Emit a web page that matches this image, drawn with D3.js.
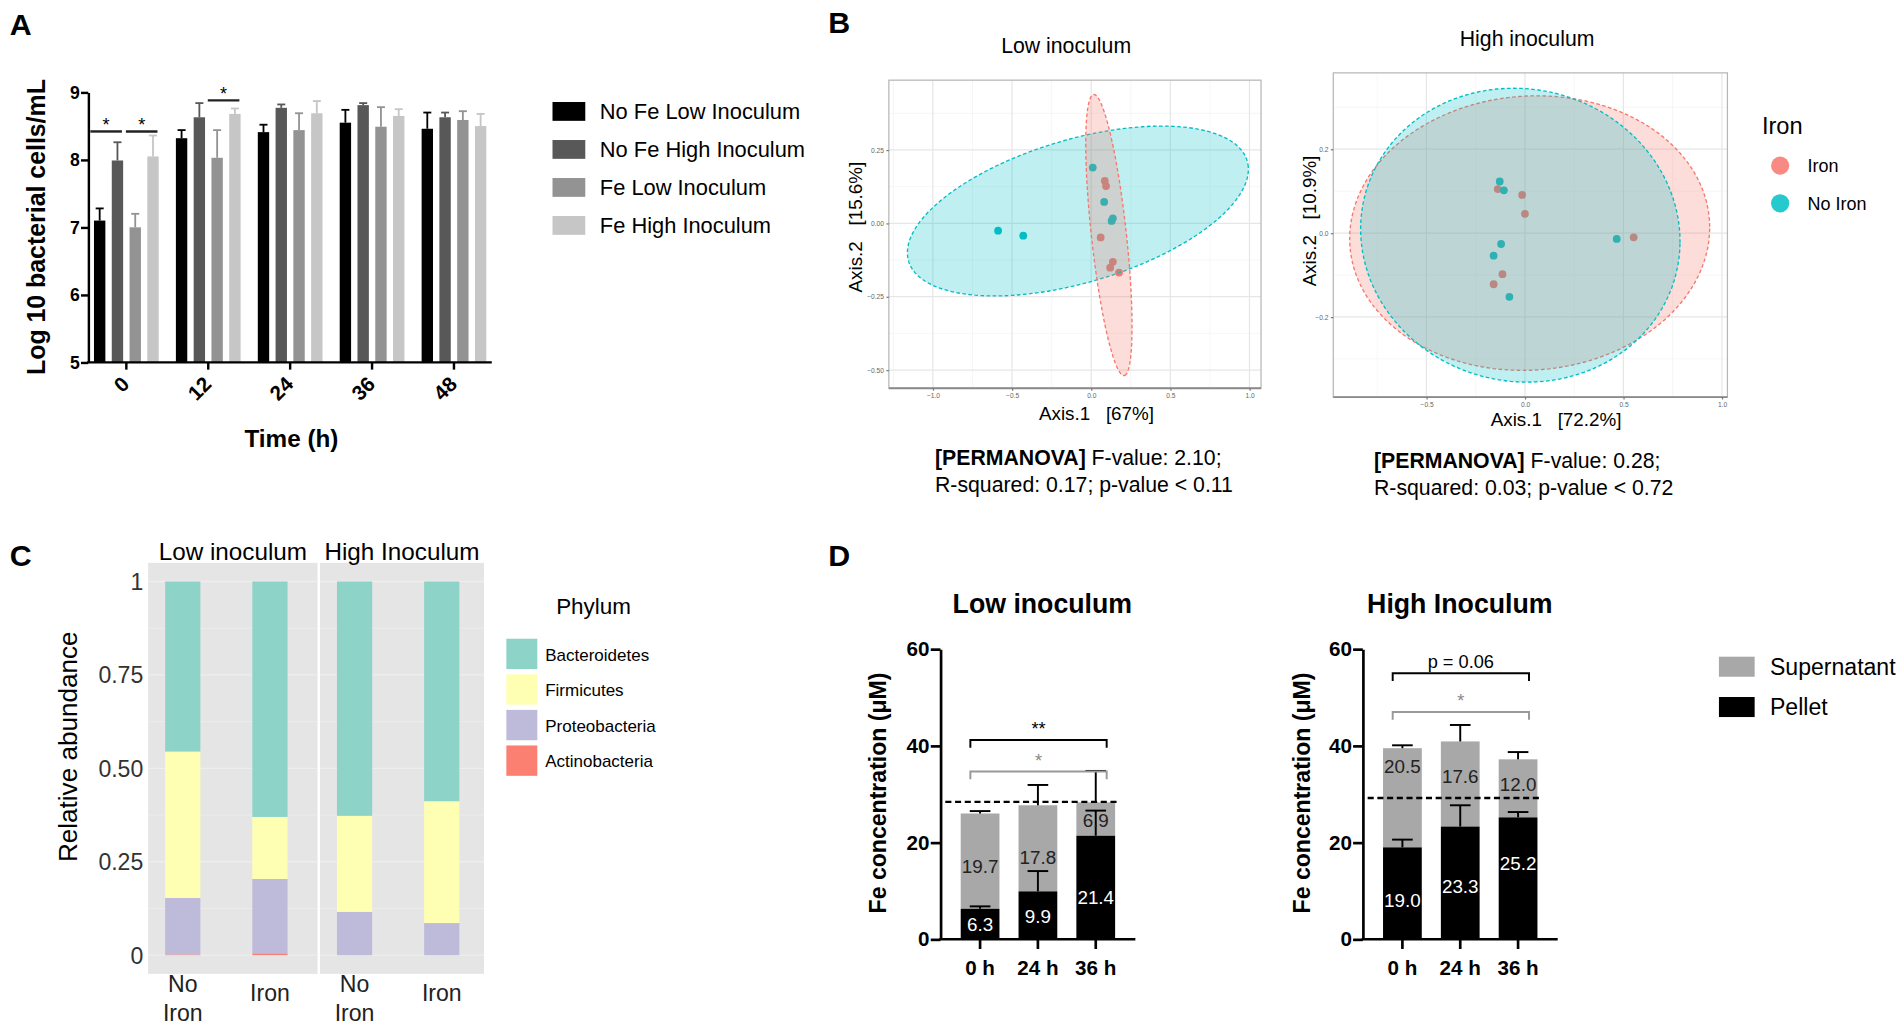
<!DOCTYPE html>
<html>
<head>
<meta charset="utf-8">
<script src="https://cdn.jsdelivr.net/npm/d3@7"></script>
<style>
  body { margin: 0; background: #fff; }
  svg { display: block; }
  text { font-family: "Liberation Sans", Arial, Helvetica, sans-serif; }
</style>
</head>
<body>
<svg id="fig"></svg>
<script>
// ---------- Panel A: growth (log10 cells/mL) ----------
const timeLabels = ['0', '12', '24', '36', '48'];
const growthSeries = ['No Fe Low Inoculum', 'No Fe High Inoculum', 'Fe Low Inoculum', 'Fe High Inoculum'];
const growthColors = ['#000000', '#585858', '#939393', '#c6c6c6'];
const noFeLow = [7.10, 8.32, 8.41, 8.55, 8.46];
const noFeLowSd = [0.18, 0.12, 0.11, 0.19, 0.24];
const noFeHigh = [7.99, 8.63, 8.77, 8.81, 8.63];
const noFeHighSd = [0.27, 0.21, 0.05, 0.03, 0.07];
const feLow = [7.00, 8.03, 8.44, 8.49, 8.59];
const feLowSd = [0.20, 0.41, 0.25, 0.29, 0.13];
const feHigh = [8.05, 8.68, 8.69, 8.65, 8.50];
const feHighSd = [0.31, 0.08, 0.18, 0.10, 0.18];
const growthSig = [
  { time: '0', from: 0, to: 1, y: 8.42 },
  { time: '0', from: 2, to: 3, y: 8.42 },
  { time: '12', from: 2, to: 3, y: 8.88 }
];

// ---------- Panel B: PCoA ----------
const lowNoIronPts = [[0.010, 0.190], [0.082, 0.073], [0.137, 0.017], [0.129, 0.008], [-0.588, -0.025], [-0.429, -0.042]];
const lowIronPts = [[0.086, 0.145], [0.094, 0.127], [0.060, -0.048], [0.137, -0.131], [0.120, -0.151], [0.176, -0.168]];
const highNoIronPts = [[-0.128, 0.123], [-0.107, 0.102], [0.466, -0.014], [-0.121, -0.026], [-0.159, -0.054], [-0.079, -0.152]];
const highIronPts = [[-0.138, 0.105], [-0.014, 0.091], [0.000, 0.046], [0.552, -0.010], [-0.114, -0.098], [-0.159, -0.122]];
// ellipses: [cx, cy, semi-axis a, semi-axis b, angle (rad)]
const lowNoIronEllipse = [-0.084, 0.042, 1.087, 0.250, 0.1385];
const lowIronEllipse = [0.112, -0.040, 0.489, 0.109, -1.365];
const highNoIronEllipse = [-0.0235, -0.005, 0.811, 0.350, -0.0224];
const highIronEllipse = [0.024, 0.000, 0.914, 0.327, 0.0165];
const ironGroups = ['Iron', 'No Iron'];
const ironColors = ['#F8766D', '#00BFC4'];

// ---------- Panel C: relative abundance ----------
const phyla = ['Bacteroidetes', 'Firmicutes', 'Proteobacteria', 'Actinobacteria'];
const phylumColors = ['#8dd3c7', '#ffffb3', '#bebada', '#fb8072'];
const inoculumFacets = ['Low inoculum', 'High Inoculum'];
const ironCategories = ['No Iron', 'Iron'];
const bacteroidetes = [0.455, 0.630, 0.627, 0.588];
const firmicutes = [0.392, 0.166, 0.257, 0.326];
const proteobacteria = [0.151, 0.199, 0.116, 0.086];
const actinobacteria = [0.002, 0.005, 0.000, 0.000];

// ---------- Panel D: Fe concentration ----------
const feTimes = ['0 h', '24 h', '36 h'];
const lowPellet = [6.3, 9.9, 21.4];
const lowPelletSd = [0.5, 4.2, 5.2];
const lowSupernatant = [19.7, 17.8, 6.9];
const lowSupernatantSd = [0.5, 4.2, 6.5];
const highPellet = [19.0, 23.3, 25.2];
const highPelletSd = [1.6, 4.4, 1.1];
const highSupernatant = [20.5, 17.6, 12.0];
const highSupernatantSd = [0.6, 3.4, 1.5];
const lowPelletLabelAt = [3.1, 4.8, 8.6];
const lowSupLabelAt = [15.0, 16.9, 24.6];
const highPelletLabelAt = [8.1, 11.0, 15.8];
const highSupLabelAt = [35.8, 33.6, 32.1];
const lowInitialFe = 28.4;
const highInitialFe = 29.2;
const lowBrackets = [{ y: 41.2, label: '**', color: '#000' }, { y: 34.7, label: '*', color: '#999' }];
const highBrackets = [{ y: 55.0, label: 'p = 0.06', color: '#000' }, { y: 47.0, label: '*', color: '#999' }];

const svg = d3.select('#fig')
  .attr('width', 1904)
  .attr('height', 1025)
  .attr('viewBox', '0 0 1568 844.1');

// panel letters
[['A', 8, 29], ['B', 682, 27], ['C', 8, 466], ['D', 682, 466]].forEach(([t, x, y]) => {
  svg.append('text').attr('x', x).attr('y', y).text(t)
    .attr('font-size', 25).attr('font-weight', 'bold');
});

// ================= Panel A =================
const gA = svg.append('g');
const aAxisX = 72.7;
const aX = d3.scaleBand().domain(timeLabels).range([77.4, 400.5]).paddingInner(0.21);
const aSub = d3.scaleBand().domain(d3.range(growthSeries.length)).range([0, aX.bandwidth()]).paddingInner(0.36);
const aY = d3.scaleLinear().domain([5, 9]).range([298.4, 76]);

const growthMeans = [noFeLow, noFeHigh, feLow, feHigh];
const growthSds = [noFeLowSd, noFeHighSd, feLowSd, feHighSd];
const growthRows = [];
growthSeries.forEach((s, si) => {
  timeLabels.forEach((t, ti) => {
    growthRows.push({ t, si, v: growthMeans[si][ti], sd: growthSds[si][ti] });
  });
});

gA.selectAll('rect.bar')
  .data(growthRows)
  .enter()
  .append('rect')
  .attr('x', d => aX(d.t) + aSub(d.si))
  .attr('width', aSub.bandwidth())
  .attr('y', d => aY(d.v))
  .attr('height', d => aY(5) - aY(d.v))
  .attr('fill', d => growthColors[d.si]);

const aErr = gA.selectAll('g.err')
  .data(growthRows)
  .enter()
  .append('g')
  .attr('stroke', d => growthColors[d.si])
  .attr('stroke-width', 1.5);
aErr.append('line')
  .attr('x1', d => aX(d.t) + aSub(d.si) + aSub.bandwidth() / 2)
  .attr('x2', d => aX(d.t) + aSub(d.si) + aSub.bandwidth() / 2)
  .attr('y1', d => aY(d.v))
  .attr('y2', d => aY(d.v + d.sd));
aErr.append('line')
  .attr('x1', d => aX(d.t) + aSub(d.si) + aSub.bandwidth() / 2 - 3.3)
  .attr('x2', d => aX(d.t) + aSub(d.si) + aSub.bandwidth() / 2 + 3.3)
  .attr('y1', d => aY(d.v + d.sd))
  .attr('y2', d => aY(d.v + d.sd));

// significance lines
growthSig.forEach(s => {
  const xa = aX(s.time) + aSub(s.from) - 3;
  const xb = aX(s.time) + aSub(s.to) + aSub.bandwidth() - 1;
  gA.append('line').attr('x1', xa).attr('x2', xb)
    .attr('y1', aY(s.y)).attr('y2', aY(s.y))
    .attr('stroke', '#222').attr('stroke-width', 2);
  gA.append('text').attr('x', (xa + xb) / 2).attr('y', aY(s.y) - 0.5)
    .attr('text-anchor', 'middle').attr('font-size', 15).text('*');
});

// axes
const aYAxis = gA.append('g')
  .attr('transform', `translate(${aAxisX},0)`)
  .call(d3.axisLeft(aY).tickValues([5, 6, 7, 8, 9]).tickFormat(d3.format('d')).tickSize(6).tickSizeOuter(0).tickPadding(1));
aYAxis.selectAll('path, line').attr('stroke', '#000').attr('stroke-width', 2);
aYAxis.selectAll('text').attr('font-size', 14.5).attr('font-weight', 'bold').attr('fill', '#000');

const aXAxis = gA.append('g')
  .attr('transform', `translate(0,${aY(5)})`)
  .call(d3.axisBottom(aX).tickSize(6).tickSizeOuter(0));
aXAxis.select('.domain').remove();
aXAxis.selectAll('line').attr('stroke', '#000').attr('stroke-width', 2);
aXAxis.selectAll('text')
  .attr('font-size', 17).attr('font-weight', 'bold').attr('fill', '#000')
  .attr('text-anchor', 'end').attr('dy', null)
  .attr('transform', 'translate(3.6,19) rotate(-45)')
  .attr('y', 0).attr('x', 0);
gA.append('line').attr('x1', aAxisX - 1).attr('x2', 405).attr('y1', aY(5)).attr('y2', aY(5))
  .attr('stroke', '#000').attr('stroke-width', 2);

gA.append('text').attr('transform', 'translate(37.2,187) rotate(-90)')
  .attr('text-anchor', 'middle').attr('font-size', 20.5).attr('font-weight', 'bold')
  .text('Log 10 bacterial cells/mL');
gA.append('text').attr('x', 240).attr('y', 368).attr('text-anchor', 'middle')
  .attr('font-size', 20).attr('font-weight', 'bold').text('Time (h)');

// legend A
const aLeg = gA.selectAll('g.leg').data(growthSeries).enter().append('g')
  .attr('transform', (d, i) => `translate(455,${84 + i * 31.3})`);
aLeg.append('rect').attr('width', 27).attr('height', 15.5).attr('fill', (d, i) => growthColors[i]);
aLeg.append('text').attr('x', 39).attr('y', 14).attr('font-size', 18).text(d => d);

// ================= Panel B =================
function ellipsePath(e) {
  const [cx, cy, a, b, phi] = e;
  return d3.range(0, 361, 3).map(deg => {
    const t = deg * Math.PI / 180;
    return [
      cx + a * Math.cos(t) * Math.cos(phi) - b * Math.sin(t) * Math.sin(phi),
      cy + a * Math.cos(t) * Math.sin(phi) + b * Math.sin(t) * Math.cos(phi)
    ];
  });
}

function pcoaPlot(o) {
  const g = svg.append('g');
  const x = d3.scaleLinear().domain(o.xDomain).range([o.x0, o.x1]);
  const y = d3.scaleLinear().domain(o.yDomain).range([o.y1, o.y0]);

  g.append('rect').attr('x', o.x0).attr('y', o.y0)
    .attr('width', o.x1 - o.x0).attr('height', o.y1 - o.y0).attr('fill', '#fff');
  // grid
  g.selectAll('line.minx').data(o.xMinor).enter().append('line')
    .attr('x1', d => x(d)).attr('x2', d => x(d)).attr('y1', o.y0).attr('y2', o.y1)
    .attr('stroke', '#f3f3f3').attr('stroke-width', 0.6);
  g.selectAll('line.miny').data(o.yMinor).enter().append('line')
    .attr('y1', d => y(d)).attr('y2', d => y(d)).attr('x1', o.x0).attr('x2', o.x1)
    .attr('stroke', '#f3f3f3').attr('stroke-width', 0.6);
  g.selectAll('line.majx').data(o.xTicks).enter().append('line')
    .attr('x1', d => x(d)).attr('x2', d => x(d)).attr('y1', o.y0).attr('y2', o.y1)
    .attr('stroke', '#e6e6e6').attr('stroke-width', 1);
  g.selectAll('line.majy').data(o.yTicks).enter().append('line')
    .attr('y1', d => y(d)).attr('y2', d => y(d)).attr('x1', o.x0).attr('x2', o.x1)
    .attr('stroke', '#e6e6e6').attr('stroke-width', 1);

  // points (drawn under the ellipses)
  o.points.forEach((pts, gi) => {
    g.selectAll(null).data(pts).enter().append('circle')
      .attr('cx', d => x(d[0])).attr('cy', d => y(d[1])).attr('r', 3.2)
      .attr('fill', ironColors[gi]);
  });
  const line = d3.line().x(d => x(d[0])).y(d => y(d[1]));
  o.order.forEach(gi => {
    g.append('path').attr('d', line(ellipsePath(o.ellipses[gi])) + 'Z')
      .attr('fill', ironColors[gi]).attr('fill-opacity', 0.25)
      .attr('stroke', ironColors[gi]).attr('stroke-width', 1.1)
      .attr('stroke-dasharray', '3,2');
  });

  // border
  g.append('rect').attr('x', o.x0).attr('y', o.y0)
    .attr('width', o.x1 - o.x0).attr('height', o.y1 - o.y0)
    .attr('fill', 'none').attr('stroke', '#b5b5b5').attr('stroke-width', 1);
  g.append('line').attr('x1', o.x0).attr('x2', o.x1).attr('y1', o.y1).attr('y2', o.y1)
    .attr('stroke', '#8a8a8a').attr('stroke-width', 1.5);

  // ticks
  const xa = g.append('g').attr('transform', `translate(0,${o.y1})`)
    .call(d3.axisBottom(x).tickValues(o.xTicks).tickFormat(d3.format('.1f')).tickSize(2).tickPadding(2));
  const ya = g.append('g').attr('transform', `translate(${o.x0},0)`)
    .call(d3.axisLeft(y).tickValues(o.yTicks).tickFormat(d3.format(o.yFormat)).tickSize(2).tickPadding(2));
  [xa, ya].forEach(a => {
    a.select('.domain').remove();
    a.selectAll('line').attr('stroke', '#777');
    a.selectAll('text').attr('font-size', 5.5).attr('fill', '#666');
  });

  g.append('text').attr('x', o.titleX).attr('y', o.titleY).attr('text-anchor', 'middle')
    .attr('font-size', 17.5).text(o.title);
  g.append('text').attr('x', o.xLabX).attr('y', o.xLabY).attr('text-anchor', 'middle')
    .attr('font-size', 15.5).style('white-space', 'pre').text(o.xLab);
  g.append('text').attr('transform', `translate(${o.yLabX},${o.yLabY}) rotate(-90)`)
    .attr('text-anchor', 'middle').attr('font-size', 15.5).style('white-space', 'pre').text(o.yLab);

  const st = g.append('text').attr('x', o.statX).attr('y', o.statY).attr('font-size', 17.5);
  st.append('tspan').attr('font-weight', 'bold').text('[PERMANOVA]');
  st.append('tspan').text(' ' + o.stat1);
  g.append('text').attr('x', o.statX).attr('y', o.statY + 22.5).attr('font-size', 17.5).text(o.stat2);
}

pcoaPlot({
  x0: 732, x1: 1038.5, y0: 66, y1: 319.7,
  xDomain: [-1.278, 1.073], yDomain: [-0.562, 0.488],
  xTicks: [-1, -0.5, 0, 0.5, 1], xMinor: [-1.25, -0.75, -0.25, 0.25, 0.75],
  yTicks: [-0.5, -0.25, 0, 0.25], yMinor: [-0.375, -0.125, 0.125, 0.375], yFormat: '.2f',
  points: [lowIronPts, lowNoIronPts],
  ellipses: [lowIronEllipse, lowNoIronEllipse], order: [1, 0],
  title: 'Low inoculum', titleX: 878, titleY: 44,
  xLab: 'Axis.1   [67%]', xLabX: 903, xLabY: 346,
  yLab: 'Axis.2   [15.6%]', yLabX: 709.5, yLabY: 187,
  statX: 770, statY: 383, stat1: 'F-value: 2.10;', stat2: 'R-squared: 0.17; p-value < 0.11'
});

pcoaPlot({
  x0: 1098, x1: 1422.6, y0: 60, y1: 327,
  xDomain: [-0.973, 1.028], yDomain: [-0.391, 0.382],
  xTicks: [-0.5, 0, 0.5, 1], xMinor: [-0.75, -0.25, 0.25, 0.75],
  yTicks: [-0.2, 0, 0.2], yMinor: [-0.3, -0.1, 0.1, 0.3], yFormat: '.1f',
  points: [highIronPts, highNoIronPts],
  ellipses: [highIronEllipse, highNoIronEllipse], order: [0, 1],
  title: 'High inoculum', titleX: 1257.6, titleY: 37.5,
  xLab: 'Axis.1   [72.2%]', xLabX: 1281.5, xLabY: 351,
  yLab: 'Axis.2   [10.9%]', yLabX: 1084, yLabY: 182,
  statX: 1131.5, statY: 385, stat1: 'F-value: 0.28;', stat2: 'R-squared: 0.03; p-value < 0.72'
});

// legend B
svg.append('text').attr('x', 1451).attr('y', 110).attr('font-size', 19.5).text('Iron');
const bLeg = svg.selectAll('g.bleg').data(ironGroups).enter().append('g')
  .attr('transform', (d, i) => `translate(1466,${136.4 + i * 31})`);
bLeg.append('circle').attr('r', 7.5).attr('fill', (d, i) => ironColors[i]).attr('fill-opacity', 0.85);
bLeg.append('text').attr('x', 22.5).attr('y', 5.2).attr('font-size', 14.8).text(d => d);

// ================= Panel C =================
const gC = svg.append('g');
const cY = d3.scaleLinear().domain([-0.05, 1.05]).range([802, 463.5]);
const facetBox = [[122, 261.5], [263.5, 398.6]];
const abundanceRows = [];
inoculumFacets.forEach((f, fi) => {
  ironCategories.forEach((c, ci) => {
    const k = fi * 2 + ci;
    abundanceRows.push({
      facet: fi, cat: c,
      Bacteroidetes: bacteroidetes[k], Firmicutes: firmicutes[k],
      Proteobacteria: proteobacteria[k], Actinobacteria: actinobacteria[k]
    });
  });
});
const stackOrder = ['Actinobacteria', 'Proteobacteria', 'Firmicutes', 'Bacteroidetes'];
const stacked = d3.stack().keys(stackOrder)(abundanceRows);

facetBox.forEach(([fx0, fx1], fi) => {
  gC.append('rect').attr('x', fx0).attr('y', cY(1.05)).attr('width', fx1 - fx0)
    .attr('height', cY(-0.05) - cY(1.05)).attr('fill', '#e5e5e5');
  gC.selectAll(null).data(d3.range(0, 1.01, 0.125)).enter().append('line')
    .attr('x1', fx0).attr('x2', fx1).attr('y1', d => cY(d)).attr('y2', d => cY(d))
    .attr('stroke', '#eeeeee').attr('stroke-width', (d, i) => i % 2 ? 0.6 : 1.1);
  gC.append('text').attr('x', (fx0 + fx1) / 2).attr('y', 461).attr('text-anchor', 'middle')
    .attr('font-size', 20).text(inoculumFacets[fi]);
});
const cX = facetBox.map(([fx0]) => d3.scalePoint().domain(ironCategories).range([fx0 + 28.5, fx0 + 100.3]));
const cBarW = 29;

stacked.forEach(layer => {
  const col = phylumColors[phyla.indexOf(layer.key)];
  gC.selectAll(null).data(layer).enter().append('rect')
    .attr('x', d => cX[d.data.facet](d.data.cat) - cBarW / 2)
    .attr('width', cBarW)
    .attr('y', d => cY(d[1]))
    .attr('height', d => cY(d[0]) - cY(d[1]))
    .attr('fill', col);
});

gC.selectAll('text.cy').data([0, 0.25, 0.5, 0.75, 1]).enter().append('text')
  .attr('x', 118).attr('y', d => cY(d) + 7).attr('text-anchor', 'end')
  .attr('font-size', 19).attr('fill', '#333')
  .text(d => d === 0 ? '0' : d === 1 ? '1' : d3.format('.2f')(d));

abundanceRows.forEach(r => {
  const t = gC.append('text').attr('text-anchor', 'middle').attr('font-size', 19).attr('fill', '#222');
  const cx = cX[r.facet](r.cat);
  if (r.cat === 'No Iron') {
    t.append('tspan').attr('x', cx).attr('y', 817).text('No');
    t.append('tspan').attr('x', cx).attr('y', 841).text('Iron');
  } else {
    t.attr('x', cx).attr('y', 824).text('Iron');
  }
});

gC.append('text').attr('transform', 'translate(63.5,615) rotate(-90)').attr('text-anchor', 'middle')
  .attr('font-size', 21.5).text('Relative abundance');

gC.append('text').attr('x', 458).attr('y', 506).attr('font-size', 18.5).text('Phylum');
const cLeg = gC.selectAll('g.cleg').data(phyla).enter().append('g')
  .attr('transform', (d, i) => `translate(417,${526 + i * 29.3})`);
cLeg.append('rect').attr('width', 25.5).attr('height', 25).attr('fill', (d, i) => phylumColors[i]);
cLeg.append('text').attr('x', 32).attr('y', 18).attr('font-size', 14).text(d => d);

// ================= Panel D =================
function ironPanel(o) {
  const g = svg.append('g');
  const x = d3.scaleBand().domain(feTimes).range([o.x0, o.x1]).paddingInner(0.33).paddingOuter(0.35);
  const y = d3.scaleLinear().domain([0, 60]).range([773.5, 534.5]);
  const rows = feTimes.map((t, i) => ({
    t, p: o.pellet[i], pSd: o.pelletSd[i], s: o.sup[i], sSd: o.supSd[i],
    pAt: o.pelletAt[i], sAt: o.supAt[i]
  }));

  g.selectAll('rect.sup').data(rows).enter().append('rect')
    .attr('x', d => x(d.t)).attr('width', x.bandwidth())
    .attr('y', d => y(d.p + d.s)).attr('height', d => y(d.p) - y(d.p + d.s))
    .attr('fill', '#a8a8a8');
  g.selectAll('rect.pel').data(rows).enter().append('rect')
    .attr('x', d => x(d.t)).attr('width', x.bandwidth())
    .attr('y', d => y(d.p)).attr('height', d => y(0) - y(d.p))
    .attr('fill', '#000');

  // error bars (upper only)
  const cx = d => x(d.t) + x.bandwidth() / 2;
  const errs = [];
  rows.forEach(d => {
    errs.push({ x: cx(d), y0: d.p, y1: d.p + d.pSd });
    errs.push({ x: cx(d), y0: d.p + d.s, y1: d.p + d.s + d.sSd });
  });
  g.selectAll('line.ev').data(errs).enter().append('line')
    .attr('x1', d => d.x).attr('x2', d => d.x).attr('y1', d => y(d.y0)).attr('y2', d => y(d.y1))
    .attr('stroke', '#000').attr('stroke-width', 1.6);
  g.selectAll('line.ec').data(errs).enter().append('line')
    .attr('x1', d => d.x - 8.5).attr('x2', d => d.x + 8.5).attr('y1', d => y(d.y1)).attr('y2', d => y(d.y1))
    .attr('stroke', '#000').attr('stroke-width', 1.6);

  // value labels
  g.selectAll('text.sv').data(rows).enter().append('text')
    .attr('x', cx).attr('y', d => y(d.sAt) + 5.5).attr('text-anchor', 'middle')
    .attr('font-size', 15.5).attr('fill', '#222').text(d => d3.format('.1f')(d.s));
  g.selectAll('text.pv').data(rows).enter().append('text')
    .attr('x', cx).attr('y', d => y(d.pAt) + 5.5).attr('text-anchor', 'middle')
    .attr('font-size', 15.5).attr('fill', '#fff').text(d => d3.format('.1f')(d.p));

  // initial Fe line
  g.append('line').attr('x1', o.x0 + 4).attr('x2', x(feTimes[2]) + x.bandwidth() + 2)
    .attr('y1', y(o.initial)).attr('y2', y(o.initial))
    .attr('stroke', '#000').attr('stroke-width', 2).attr('stroke-dasharray', '5,3');

  // brackets
  const bx0 = cx(rows[0]) - 8, bx1 = cx(rows[2]) + 9;
  o.brackets.forEach(b => {
    const yb = y(b.y);
    g.append('path').attr('d', `M${bx0},${yb + 6.5}V${yb}H${bx1}V${yb + 6.5}`)
      .attr('fill', 'none').attr('stroke', b.color).attr('stroke-width', 1.6);
    g.append('text').attr('x', (bx0 + bx1) / 2).attr('y', yb - 4).attr('text-anchor', 'middle')
      .attr('font-size', 15).attr('fill', b.color === '#000' ? '#000' : '#888')
      .text(b.label);
  });

  // axes
  const ya = g.append('g').attr('transform', `translate(${o.x0},0)`)
    .call(d3.axisLeft(y).tickValues([0, 20, 40, 60]).tickSize(8).tickSizeOuter(0).tickPadding(1));
  ya.selectAll('path, line').attr('stroke', '#000').attr('stroke-width', 2.2);
  ya.selectAll('text').attr('font-size', 17).attr('font-weight', 'bold').attr('fill', '#000');
  const xa = g.append('g').attr('transform', `translate(0,${y(0)})`)
    .call(d3.axisBottom(x).tickSize(8).tickSizeOuter(0).tickPadding(9));
  xa.select('.domain').remove();
  xa.selectAll('line').attr('stroke', '#000').attr('stroke-width', 2.2);
  xa.selectAll('text').attr('font-size', 17).attr('font-weight', 'bold').attr('fill', '#000');
  g.append('line').attr('x1', o.x0 - 1).attr('x2', o.x1).attr('y1', y(0)).attr('y2', y(0))
    .attr('stroke', '#000').attr('stroke-width', 2.2);

  g.append('text').attr('transform', `translate(${o.yLabX},653) rotate(-90)`).attr('text-anchor', 'middle')
    .attr('font-size', 19).attr('font-weight', 'bold').text('Fe concentration (\u03bcM)');
  g.append('text').attr('x', o.titleX).attr('y', 505).attr('text-anchor', 'middle')
    .attr('font-size', 22).attr('font-weight', 'bold').text(o.title);
}

ironPanel({
  x0: 774.5, x1: 935, title: 'Low inoculum', titleX: 858.4, yLabX: 729.5,
  pellet: lowPellet, pelletSd: lowPelletSd, sup: lowSupernatant, supSd: lowSupernatantSd,
  pelletAt: lowPelletLabelAt, supAt: lowSupLabelAt, initial: lowInitialFe, brackets: lowBrackets
});
ironPanel({
  x0: 1122.3, x1: 1282.8, title: 'High Inoculum', titleX: 1202.2, yLabX: 1078.6,
  pellet: highPellet, pelletSd: highPelletSd, sup: highSupernatant, supSd: highSupernatantSd,
  pelletAt: highPelletLabelAt, supAt: highSupLabelAt, initial: highInitialFe, brackets: highBrackets
});

// legend D
const dLeg = svg.selectAll('g.dleg').data(['Supernatant', 'Pellet']).enter().append('g')
  .attr('transform', (d, i) => `translate(1415.6,${540.8 + i * 33.2})`);
dLeg.append('rect').attr('width', 29.4).attr('height', 16.5).attr('fill', (d, i) => i ? '#000' : '#a8a8a8');
dLeg.append('text').attr('x', 42).attr('y', 15).attr('font-size', 19).text(d => d);
</script>
</body>
</html>
